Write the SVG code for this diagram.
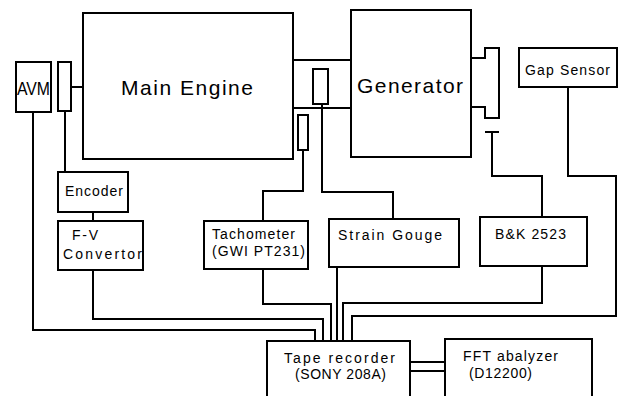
<svg xmlns="http://www.w3.org/2000/svg" width="622" height="396" viewBox="0 0 622 396">
<style>
.b{fill:#fff;stroke:#000;stroke-width:2}
.c{fill:none;stroke:#000;stroke-width:2}
text{font-family:"Liberation Sans",Arial,sans-serif;font-size:14px;fill:#000;text-anchor:middle}
.big{font-size:21px}
</style>
<rect width="622" height="396" fill="#fff"/>
<g id="connectors">
<line class="c" x1="71" y1="87" x2="83" y2="87"/>
<line class="c" x1="65" y1="111" x2="65" y2="172"/>
<line class="c" x1="93" y1="212" x2="93" y2="221"/>
<polyline class="c" points="33,112 33,330 315,330 315,341"/>
<polyline class="c" points="93,270 93,319 323,319 323,341"/>
<polyline class="c" points="303,150 303,191 263,191 263,221"/>
<polyline class="c" points="263,269 263,304 331,304 331,341"/>
<polyline class="c" points="322,104 322,192 393,192 393,219"/>
<line class="c" x1="337" y1="267" x2="337" y2="341"/>
<line class="c" x1="485" y1="132" x2="499" y2="132"/>
<polyline class="c" points="492,132 492,176 542,176 542,217"/>
<polyline class="c" points="542,266 542,303 343,303 343,341"/>
<polyline class="c" points="568,87 568,176 616,176 616,316 352,316 352,341"/>
<line class="c" x1="410" y1="362" x2="445" y2="362"/>
<line class="c" x1="410" y1="371" x2="445" y2="371"/>
<line class="c" x1="293" y1="60" x2="351" y2="60"/>
<line class="c" x1="293" y1="108" x2="351" y2="108"/>
<path class="c" d="M471,58 H485 V48 H499 V118 H485 V107 H471"/>
</g>
<g id="main-engine"><rect class="b" x="83" y="13" width="210" height="146"/><text class="big" x="187" y="95" textLength="132" lengthAdjust="spacing">Main Engine</text></g>
<g id="generator"><rect class="b" x="351" y="10" width="120" height="147"/><text class="big" x="410" y="93" textLength="106" lengthAdjust="spacing">Generator</text></g>
<g id="avm"><rect class="b" x="16" y="62" width="35" height="50"/><text x="33.5" y="95" style="font-size:19px" textLength="33" lengthAdjust="spacingAndGlyphs">AVM</text></g>
<g id="encoder-sensor"><rect class="b" x="58" y="62" width="13" height="49"/></g>
<g id="strain-sensor"><rect class="b" x="313" y="69" width="15" height="35"/></g>
<g id="tacho-sensor"><rect class="b" x="298" y="115" width="10" height="35"/></g>
<g id="gap-sensor"><rect class="b" x="519" y="48" width="98" height="39"/><text x="567.5" y="75" textLength="85" lengthAdjust="spacing">Gap Sensor</text></g>
<g id="encoder"><rect class="b" x="58" y="172" width="70" height="40"/><text x="94" y="196" textLength="58" lengthAdjust="spacing">Encoder</text></g>
<g id="fv-convertor"><rect class="b" x="58" y="221" width="85" height="49"/><text x="85" y="240" textLength="26" lengthAdjust="spacing">F-V</text><text x="102.5" y="259" textLength="79" lengthAdjust="spacing">Convertor</text></g>
<g id="tachometer"><rect class="b" x="204" y="221" width="104" height="48"/><text x="253.5" y="239" textLength="83" lengthAdjust="spacing">Tachometer</text><text x="258.5" y="256" textLength="93" lengthAdjust="spacing">(GWI PT231)</text></g>
<g id="strain-gouge"><rect class="b" x="329" y="219" width="130" height="48"/><text x="390" y="240" textLength="104" lengthAdjust="spacing">Strain Gouge</text></g>
<g id="bk2523"><rect class="b" x="480" y="217" width="107" height="49"/><text x="530.5" y="239" textLength="71" lengthAdjust="spacing">B&amp;K 2523</text></g>
<g id="tape-recorder"><rect class="b" x="267" y="341" width="143" height="62"/><text x="339.5" y="363" textLength="111" lengthAdjust="spacing">Tape recorder</text><text x="340.5" y="379" textLength="91" lengthAdjust="spacing">(SONY 208A)</text></g>
<g id="fft-analyzer"><rect class="b" x="445" y="339" width="147" height="64"/><text x="510.5" y="361" textLength="95" lengthAdjust="spacing">FFT abalyzer</text><text x="500.5" y="378" textLength="63" lengthAdjust="spacing">(D12200)</text></g>
</svg>
